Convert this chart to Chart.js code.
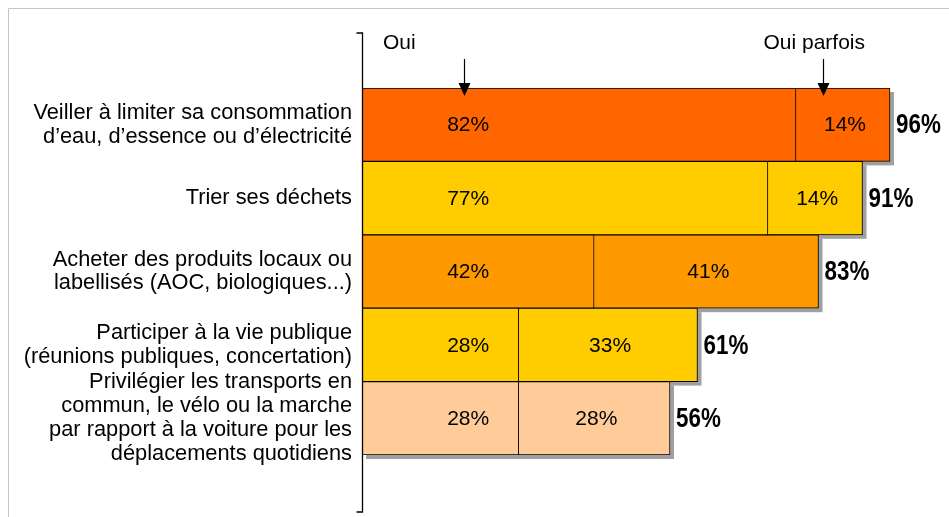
<!DOCTYPE html>
<html>
<head>
<meta charset="utf-8">
<script src="https://cdn.jsdelivr.net/npm/chart.js@4.4.1/dist/chart.umd.min.js"></script>
<style>
  html, body { margin: 0; padding: 0; background: #fff; }
  canvas { display: block; }
</style>
</head>
<body>
<canvas id="chart" width="949" height="517"></canvas>
<script>
// Données du graphique
const categories = [
    ['Veiller à limiter sa consommation', 'd’eau, d’essence ou d’électricité'],
    ['Trier ses déchets'],
    ['Acheter des produits locaux ou', 'labellisés (AOC, biologiques...)'],
    ['Participer à la vie publique', '(réunions publiques, concertation)'],
    ['Privilégier les transports en', 'commun, le vélo ou la marche', 'par rapport à la voiture pour les', 'déplacements quotidiens']
];
const seriesNames = ['Oui', 'Oui parfois'];
// longueurs des barres
const ouiValues = [78.9, 73.8, 42.2, 28.5, 28.5];
const parfoisValues = [17.1, 17.2, 40.8, 32.5, 27.5];
// étiquettes affichées
const ouiLabels = ['82%', '77%', '42%', '28%', '28%'];
const parfoisLabels = ['14%', '14%', '41%', '33%', '28%'];
const totalLabels = ['96%', '91%', '83%', '61%', '56%'];
const barColors = ['#FF6600', '#FFCC00', '#FF9900', '#FFCC00', '#FFCC99'];

const FONT = "'Liberation Sans', Arial, sans-serif";

// Plugin pour les ombres, étiquettes, flèches et cadre
const decorPlugin = {
    id: 'decor',
    beforeDraw(chart) {
        const ctx = chart.ctx;
        ctx.save();
        ctx.strokeStyle = '#c4c4c4';
        ctx.lineWidth = 1;
        ctx.beginPath();
        ctx.moveTo(8.5, chart.height);
        ctx.lineTo(8.5, 8.5);
        ctx.lineTo(chart.width, 8.5);
        ctx.stroke();
        ctx.restore();
    },
    beforeDatasetsDraw(chart) {
        const ctx = chart.ctx;
        const m0 = chart.getDatasetMeta(0);
        const m1 = chart.getDatasetMeta(1);
        ctx.save();
        ctx.fillStyle = '#a0a0a0';
        m0.data.forEach((bar, i) => {
            const end = m1.data[i];
            const top = bar.y - bar.height / 2;
            ctx.fillRect(bar.base + 4, top + 4, end.x - bar.base, bar.height);
        });
        ctx.restore();
    },
    afterDatasetsDraw(chart) {
        const ctx = chart.ctx;
        const area = chart.chartArea;
        const x = chart.scales.x;
        const m0 = chart.getDatasetMeta(0);
        const m1 = chart.getDatasetMeta(1);
        ctx.save();
        ctx.textBaseline = 'middle';
        ctx.fillStyle = '#000';
        m0.data.forEach((bar, i) => {
            const seg = m1.data[i];
            ctx.font = '21px ' + FONT;
            ctx.textAlign = 'center';
            ctx.fillText(ouiLabels[i], x.getPixelForValue(19.3), bar.y + 1);
            ctx.fillText(parfoisLabels[i], (seg.base + seg.x) / 2 + 2, seg.y + 1);
            // total en gras, police étroite simulée
            ctx.save();
            ctx.translate(seg.x + 6, seg.y + 1);
            ctx.scale(0.8, 1);
            ctx.font = 'bold 28px ' + FONT;
            ctx.textAlign = 'left';
            ctx.fillText(totalLabels[i], 0, 0);
            ctx.restore();
        });

        // crochet de l'axe
        const ax = Math.round(area.left) + 0.5;
        const yTop = area.top - 55;
        const yBot = area.bottom + 57;
        ctx.strokeStyle = '#000';
        ctx.lineWidth = 1.3;
        ctx.beginPath();
        ctx.moveTo(ax - 6, yTop);
        ctx.lineTo(ax, yTop);
        ctx.lineTo(ax, yBot);
        ctx.lineTo(ax - 6, yBot);
        ctx.stroke();

        // en-têtes et flèches
        const first = m1.data[0];
        const xOui = x.getPixelForValue(18.6);
        const xParfois = first.base + (first.x - first.base) * 0.29;
        ctx.font = '21px ' + FONT;
        ctx.textAlign = 'left';
        ctx.fillText(seriesNames[0], area.left + 21, area.top - 45);
        ctx.textAlign = 'center';
        ctx.fillText(seriesNames[1], xParfois - 9, area.top - 45);

        [xOui, xParfois].forEach(ax2 => {
            const px = Math.round(ax2) + 0.5;
            ctx.lineWidth = 1.2;
            ctx.beginPath();
            ctx.moveTo(px, area.top - 29);
            ctx.lineTo(px, area.top - 5);
            ctx.stroke();
            ctx.beginPath();
            ctx.moveTo(px - 6, area.top - 5);
            ctx.lineTo(px + 6, area.top - 5);
            ctx.lineTo(px, area.top + 8);
            ctx.closePath();
            ctx.fill();
        });
        ctx.restore();
    }
};

function initChart() {
    const ctx = document.getElementById('chart').getContext('2d');
    new Chart(ctx, {
        type: 'bar',
        data: {
            labels: categories,
            datasets: [
                {
                    label: seriesNames[0],
                    data: ouiValues,
                    backgroundColor: barColors,
                    borderColor: '#000',
                    borderWidth: 1,
                    borderSkipped: false,
                    categoryPercentage: 1,
                    barPercentage: 1
                },
                {
                    label: seriesNames[1],
                    data: parfoisValues,
                    backgroundColor: barColors,
                    borderColor: '#000',
                    borderWidth: 1,
                    borderSkipped: 'left',
                    categoryPercentage: 1,
                    barPercentage: 1
                }
            ]
        },
        options: {
            indexAxis: 'y',
            responsive: false,
            animation: false,
            layout: { padding: { top: 88, bottom: 62, right: 37, left: 0 } },
            plugins: {
                legend: { display: false },
                tooltip: { enabled: false }
            },
            scales: {
                x: { stacked: true, min: 0, max: 100, display: false },
                y: {
                    stacked: true,
                    grid: { display: false, drawTicks: false },
                    border: { display: false },
                    ticks: {
                        color: '#000',
                        padding: 10,
                        autoSkip: false,
                        font: { family: FONT, size: 21.8, lineHeight: 1.1 }
                    },
                    afterFit(scale) { scale.width = 362; }
                }
            }
        },
        plugins: [decorPlugin]
    });
}

document.addEventListener('DOMContentLoaded', initChart);
</script>
</body>
</html>
